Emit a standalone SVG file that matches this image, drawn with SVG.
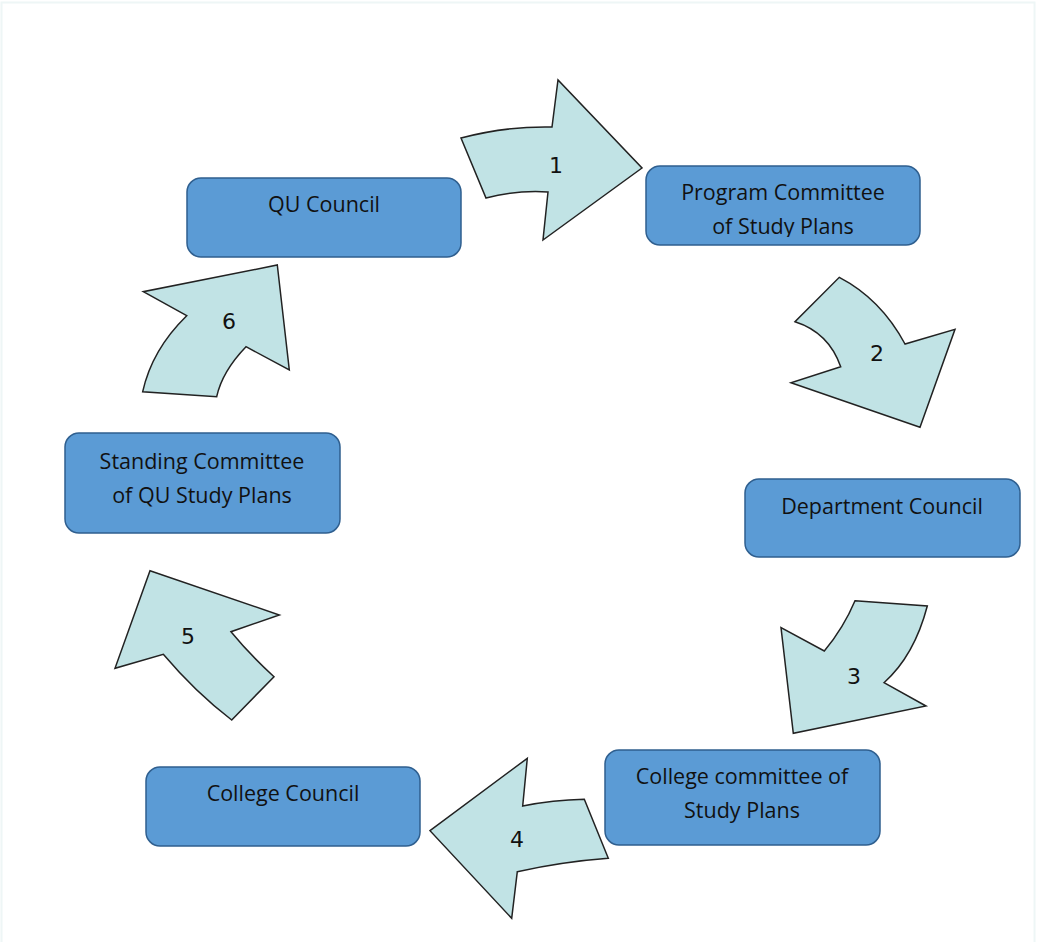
<svg xmlns="http://www.w3.org/2000/svg" width="1038" height="942" viewBox="0 0 1038 942">
<style>
.box{fill:#5B9BD5;stroke:#2F5F8F;stroke-width:1.5}
.lbl{font-family:"Open Sans","Liberation Sans",sans-serif;font-size:21.5px;fill:#111;text-anchor:middle}
.arr{fill:#C1E3E5;stroke:#222;stroke-width:1.5;stroke-linejoin:miter}
.num{font-family:"DejaVu Sans",sans-serif;font-size:22px;fill:#111;text-anchor:middle}
</style>
<defs>
<clipPath id="clipProg"><rect x="646" y="166" width="274" height="71"/></clipPath>
</defs>
<rect x="0" y="0" width="1038" height="942" fill="#fff"/>
<rect x="1.5" y="2.5" width="1033" height="945" fill="none" stroke="#EEF6F6" stroke-width="2"/>
<g id="connectors">
<g id="arrow1"><path class="arr" d="M461,138 Q507,126 552,127 L558,80 L642,168 L543,240 L548,192 Q516.5,190 486,198 Z"/><text class="num" x="556" y="173">1</text></g>
<g id="arrow2"><path class="arr" d="M839.3,277.3 Q881,299 905,344 L955,329.3 L920,427.3 L791,382.7 L840.7,366.7 Q828.7,332.4 795,321.7 Z"/><text class="num" x="877" y="361">2</text></g>
<g id="arrow3"><path class="arr" d="M855,600.7 L927.3,606 Q914.3,655.7 884,682.7 L926,706 L793.3,733.3 L781,627.7 L824.3,651 Q843.7,627.6 855,600.7 Z"/><text class="num" x="854" y="684">3</text></g>
<g id="arrow4"><path class="arr" d="M527.3,758.3 L522.7,806 Q553,800 584.3,799.3 L608.3,858.3 Q563.8,861.6 517.3,871.7 L511.7,918.3 L430,830.7 Z"/><text class="num" x="517" y="847">4</text></g>
<g id="arrow5"><path class="arr" d="M150,570.7 L279.3,615 L231,631.7 Q250.9,655.8 274,676.7 L231.7,720 Q195.9,692.8 163.3,654.3 L115,668.3 Z"/><text class="num" x="188" y="644">5</text></g>
<g id="arrow6"><path class="arr" d="M277.3,265 L289.3,370 L246,346.7 Q222,371.7 216.7,396.7 L142.7,391.7 Q151.9,349.7 186.7,315.7 L143.3,291.7 Z"/><text class="num" x="229" y="329">6</text></g>
</g>
<g id="node-qu-council"><rect class="box" x="187" y="178" width="274" height="79" rx="14"/><text class="lbl" x="324" y="212">QU Council</text></g>
<g id="node-program-committee"><rect class="box" x="646" y="166" width="274" height="79" rx="14"/><g clip-path="url(#clipProg)"><text class="lbl" x="783" y="200">Program Committee</text><text class="lbl" x="783" y="234">of Study Plans</text></g></g>
<g id="node-department-council"><rect class="box" x="745" y="479" width="275" height="78" rx="14"/><text class="lbl" x="882" y="514">Department Council</text></g>
<g id="node-college-committee"><rect class="box" x="605" y="750" width="275" height="95" rx="14"/><text class="lbl" x="742" y="784">College committee of</text><text class="lbl" x="742" y="818">Study Plans</text></g>
<g id="node-college-council"><rect class="box" x="146" y="767" width="274" height="79" rx="14"/><text class="lbl" x="283" y="801">College Council</text></g>
<g id="node-standing-committee"><rect class="box" x="65" y="433" width="275" height="100" rx="14"/><text class="lbl" x="202" y="469">Standing Committee</text><text class="lbl" x="202" y="503">of QU Study Plans</text></g>
</svg>
